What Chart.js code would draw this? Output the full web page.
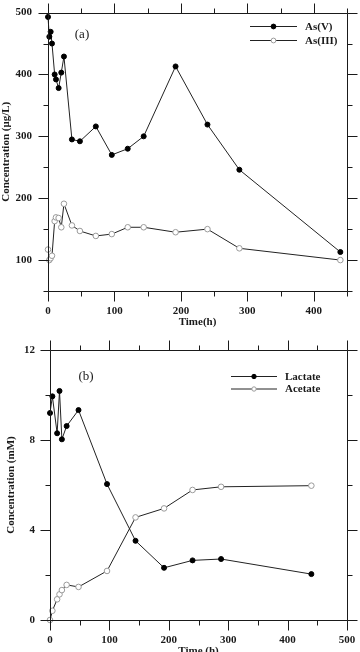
<!DOCTYPE html>
<html><head><meta charset="utf-8">
<script src="https://cdn.jsdelivr.net/npm/chart.js@4"></script>
<style>
html,body{margin:0;padding:0;background:#fff;overflow:hidden;width:360px;height:652px}
#wa{position:absolute;left:0;top:0;width:360px;height:332px}
#wb{position:absolute;left:0;top:326px;width:360px;height:340px}
</style></head><body>
<div id="wa"><canvas id="ca"></canvas></div>
<div id="wb"><canvas id="cb"></canvas></div>
<script>
// ---- data ----
const timeA = [0,2,4,6,10,12,16,20,24,36,48,72,96,120,144,192,240,288,440];
const asV   = [493,461,469,450,400,392,378,403,429,295,292,316,270,280,300,413,319,246,113];
const asIII = [117,100,103,107,163,169,168,153,191,156,147,139,142,153,153,145,150,119,100];
const timeB = [0,4,12,16,20,28,48,96,144,192,240,288,440];
const lactate = [9.2,9.94,8.3,10.18,8.03,8.62,9.33,6.04,3.52,2.32,2.65,2.71,2.04];
const acetate = [0,0.41,0.92,1.14,1.33,1.56,1.47,2.18,4.56,4.96,5.78,5.92,5.97];
const xTicksA = [0,100,200,300,400];
const yTicksA = [100,200,300,400,500];
const xTicksB = [0,100,200,300,400,500];
const yTicksB = [0,4,8,12];

const FONT = '"Liberation Serif","Times New Roman",serif';
const INK = '#1a1a1a';
const tickFont = {family:FONT, size:11, weight:'bold'};

function pts(xs, ys){ return xs.map((x,i)=>({x:x, y:ys[i]})); }

function framePlugin(o){
  return {
    id:'frame',
    afterDraw(chart){
      const {ctx, chartArea:a, scales:{x,y}} = chart;
      ctx.save();
      ctx.strokeStyle = INK; ctx.lineWidth = 1;
      const L=Math.round(a.left)+0.5, R=Math.round(a.right)+0.5, T=Math.round(a.top)+0.5, B=Math.round(a.bottom)+0.5;
      ctx.beginPath();
      ctx.moveTo(L,T); ctx.lineTo(R,T); ctx.lineTo(R,B); ctx.lineTo(L,B); ctx.closePath();
      x.ticks.forEach(t=>{
        const p = Math.round(x.getPixelForValue(t.value))+0.5;
        const len = o.xMajor.includes(t.value) ? 10 : 5;
        ctx.moveTo(p,B); ctx.lineTo(p,B+len);
        ctx.moveTo(p,T); ctx.lineTo(p,T-len);
      });
      y.ticks.forEach(t=>{
        const p = Math.round(y.getPixelForValue(t.value))+0.5;
        const len = o.yMajor.includes(t.value) ? 10 : 5;
        ctx.moveTo(L,p); ctx.lineTo(L-len,p);
        ctx.moveTo(R,p); ctx.lineTo(R+len,p);
      });
      ctx.stroke();
      // panel label
      ctx.fillStyle = INK;
      ctx.font = '13px ' + FONT;
      ctx.textAlign='center'; ctx.textBaseline='middle';
      ctx.fillText(o.panel, o.panelX, o.panelY);
      // legend
      ctx.font = 'bold 11px ' + FONT;
      ctx.textAlign='left';
      chart.data.datasets.forEach((ds,i)=>{
        const ly = o.legY + i*o.legGap;
        ctx.beginPath();
        ctx.strokeStyle = ds.borderColor; ctx.lineWidth = 1;
        ctx.moveTo(o.legX1, ly+0.5); ctx.lineTo(o.legX2, ly+0.5); ctx.stroke();
        ctx.beginPath();
        ctx.arc((o.legX1+o.legX2)/2, ly+0.5, o.legR, 0, Math.PI*2);
        ctx.fillStyle = ds.pointBackgroundColor; ctx.fill();
        ctx.strokeStyle = ds.pointBorderColor; ctx.stroke();
        ctx.fillStyle = INK;
        ctx.fillText(ds.label, o.legX2+8, ly+1);
      });
      ctx.restore();
    }
  };
}

function filled(label, data){
  return {label, data, borderColor:'#222', borderWidth:1, pointRadius:2.5, clip:false,
    pointBackgroundColor:'#000', pointBorderColor:'#000', pointBorderWidth:1, tension:0};
}
function hollow(label, data){
  return {label, data, borderColor:'#222', borderWidth:1, pointRadius:2.8, clip:false,
    pointBackgroundColor:'#fff', pointBorderColor:'#9a9a9a', pointBorderWidth:1, tension:0};
}

function scaleOpts(min,max,step,major,title,extra){
  return Object.assign({
    type:'linear', min, max,
    ticks:{stepSize:step, autoSkip:false, maxRotation:0, font:tickFont, color:INK,
      callback:v=> major.includes(v) ? String(v) : ''},
    grid:{display:true, drawOnChartArea:false, drawTicks:true, tickLength:10, color:'transparent'},
    border:{display:false},
    title:{display:true, text:title, font:tickFont, color:INK}
  }, extra);
}

new Chart(document.getElementById('ca'), {
  type:'line',
  data:{datasets:[filled('As(V)', pts(timeA, asV)), hollow('As(III)', pts(timeA, asIII))]},
  options:{
    responsive:true, maintainAspectRatio:false, animation:false,
    layout:{padding:{left:0, top:10, right:13, bottom:0}},
    plugins:{legend:{display:false}, tooltip:{enabled:false}},
    scales:{
      x: (()=>{const s=scaleOpts(0,450,50,xTicksA,'Time(h)',{afterFit(s){s.height=41;}}); s.ticks.padding=4; s.title.padding={top:0,bottom:3}; return s;})(),
      y: (()=>{const s=scaleOpts(50,500,50,yTicksA,'Concentration (μg/L)',{afterFit(s){s.width=48;}}); s.ticks.padding=6; s.title.padding={top:0,bottom:0}; return s;})()
    }
  },
  plugins:[framePlugin({xMajor:xTicksA, yMajor:yTicksA, panel:'(a)', panelX:82, panelY:35,
    legX1:250, legX2:297, legY:26, legGap:14, legR:2.4})]
});

new Chart(document.getElementById('cb'), {
  type:'line',
  data:{datasets:[filled('Lactate', pts(timeB, lactate)), hollow('Acetate', pts(timeB, acetate))]},
  options:{
    responsive:true, maintainAspectRatio:false, animation:false,
    layout:{padding:{left:0, top:24, right:13, bottom:0}},
    plugins:{legend:{display:false}, tooltip:{enabled:false}},
    scales:{
      x: (()=>{const s=scaleOpts(0,500,50,xTicksB,'Time (h)',{afterFit(s){s.height=46;}}); s.ticks.padding=4; s.title.padding={top:0,bottom:8}; return s;})(),
      y: (()=>{const s=scaleOpts(0,12,2,yTicksB,'Concentration (mM)',{afterFit(s){s.width=50;}}); s.ticks.padding=5; s.title.padding={top:5,bottom:0}; return s;})()
    }
  },
  plugins:[framePlugin({xMajor:xTicksB, yMajor:yTicksB, panel:'(b)', panelX:86, panelY:51,
    legX1:231, legX2:277, legY:50, legGap:12.5, legR:2.2})]
});
</script>
</body></html>
